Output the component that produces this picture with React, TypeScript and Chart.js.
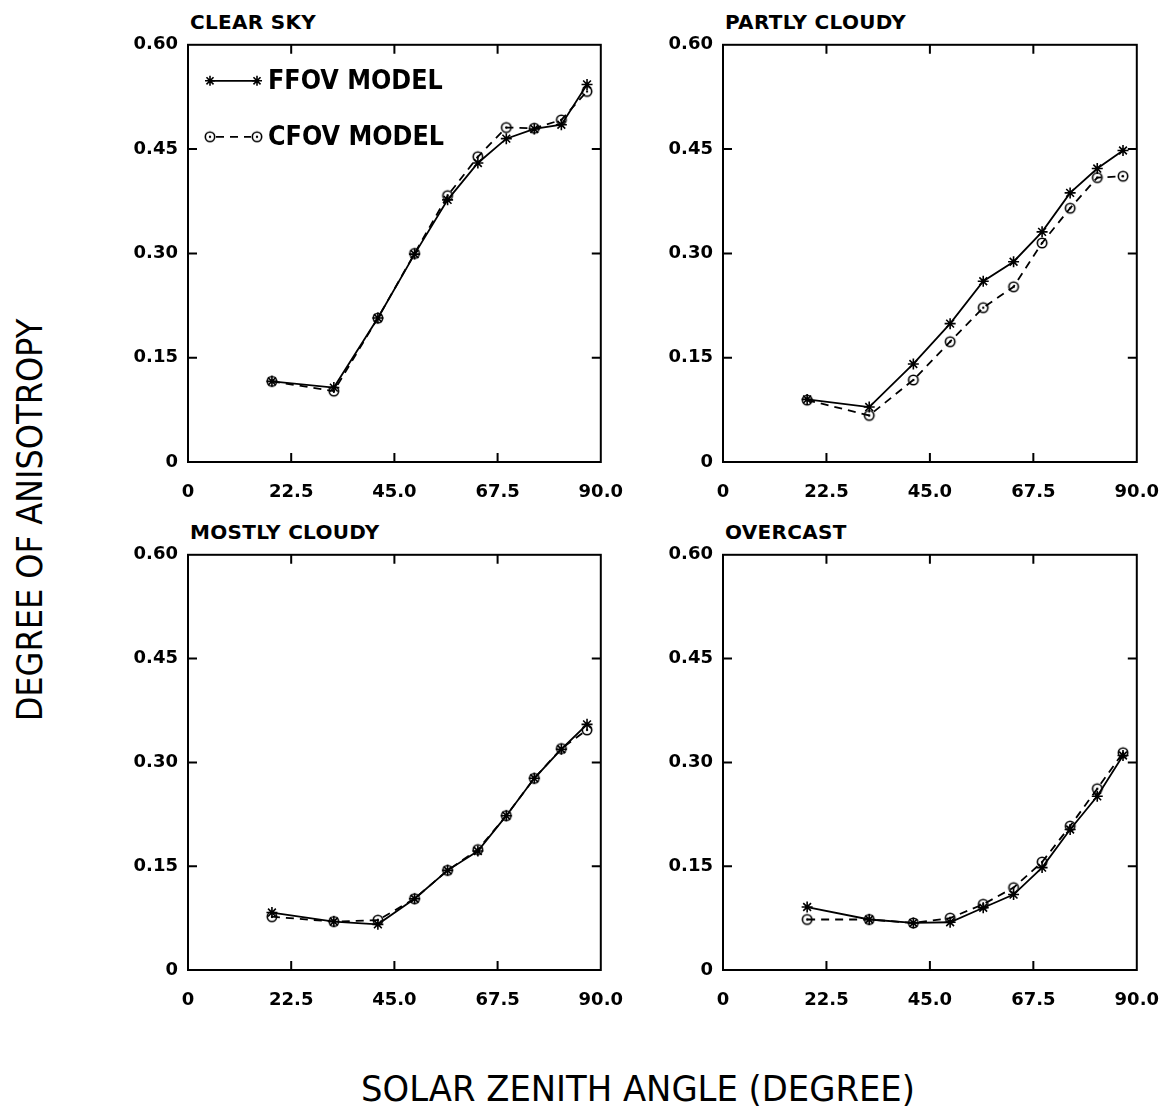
import React, { useEffect, useRef } from "react";
import { Chart, registerables } from "chart.js";

Chart.register(...registerables);

// ---- data ----
const sza = [18.3, 31.8, 41.4, 49.4, 56.6, 63.2, 69.4, 75.5, 81.4, 87.0];
const xTicks = [0, 22.5, 45, 67.5, 90];
const yTicks = [0, 0.15, 0.3, 0.45, 0.6];

const clearFFOV = [0.116, 0.107, 0.207, 0.299, 0.377, 0.43, 0.465, 0.479, 0.485, 0.543];
const clearCFOV = [0.116, 0.102, 0.207, 0.3, 0.383, 0.439, 0.481, 0.48, 0.492, 0.533];
const partlyFFOV = [0.09, 0.079, 0.141, 0.199, 0.26, 0.288, 0.331, 0.387, 0.422, 0.448];
const partlyCFOV = [0.089, 0.067, 0.118, 0.173, 0.222, 0.252, 0.315, 0.365, 0.409, 0.411];
const mostlyFFOV = [0.083, 0.07, 0.066, 0.103, 0.144, 0.172, 0.223, 0.277, 0.319, 0.355];
const mostlyCFOV = [0.077, 0.07, 0.072, 0.103, 0.144, 0.174, 0.223, 0.277, 0.32, 0.347];
const overFFOV = [0.091, 0.073, 0.068, 0.069, 0.09, 0.109, 0.148, 0.203, 0.251, 0.31];
const overCFOV = [0.073, 0.073, 0.068, 0.075, 0.095, 0.119, 0.156, 0.208, 0.262, 0.314];

const seriesNames = ["FFOV MODEL", "CFOV MODEL"];
const panelTitles = ["CLEAR SKY", "PARTLY CLOUDY", "MOSTLY CLOUDY", "OVERCAST"];
const xTitle = "SOLAR ZENITH ANGLE (DEGREE)";
const yTitle = "DEGREE OF ANISOTROPY";

const PAD_L = 80;
const PAD_T = 20;
const PAD_R = 35;
const PAD_B = 50;

function makeCircleMarker(): HTMLCanvasElement {
  const c = document.createElement("canvas");
  c.width = 14;
  c.height = 14;
  const g = c.getContext("2d")!;
  g.strokeStyle = "#000";
  g.lineWidth = 1.6;
  g.beginPath();
  g.arc(7, 7, 4.7, 0, Math.PI * 2);
  g.stroke();
  g.fillStyle = "#000";
  g.beginPath();
  g.arc(7, 7, 1.2, 0, Math.PI * 2);
  g.fill();
  return c;
}

function drawStar(ctx: CanvasRenderingContext2D, x: number, y: number, r: number) {
  ctx.beginPath();
  for (let k = 0; k < 4; k++) {
    const a = (k * Math.PI) / 4;
    ctx.moveTo(x - r * Math.cos(a), y - r * Math.sin(a));
    ctx.lineTo(x + r * Math.cos(a), y + r * Math.sin(a));
  }
  ctx.stroke();
}

const framePlugin = {
  id: "frame",
  afterDraw(chart: any) {
    const { ctx, chartArea, scales } = chart;
    const { left, right, top, bottom } = chartArea;
    ctx.save();
    ctx.strokeStyle = "#000";
    ctx.lineWidth = 2;
    ctx.strokeRect(left, top, right - left, bottom - top);
    const L = 9;
    ctx.beginPath();
    xTicks.slice(1, -1).forEach((v) => {
      const px = scales.x.getPixelForValue(v);
      ctx.moveTo(px, bottom);
      ctx.lineTo(px, bottom - L);
      ctx.moveTo(px, top);
      ctx.lineTo(px, top + L);
    });
    yTicks.slice(1, -1).forEach((v) => {
      const py = scales.y.getPixelForValue(v);
      ctx.moveTo(left, py);
      ctx.lineTo(left + L, py);
      ctx.moveTo(right, py);
      ctx.lineTo(right - L, py);
    });
    ctx.stroke();
    ctx.restore();
  },
};

function makeLegendPlugin(circle: HTMLCanvasElement) {
  return {
    id: "insideLegend",
    afterDraw(chart: any) {
      const { ctx, chartArea } = chart;
      const { left, top } = chartArea;
      const x1 = left + 22;
      const x2 = left + 69;
      const tx = left + 80;
      const rows = [top + 36, top + 92];
      ctx.save();
      ctx.strokeStyle = "#000";
      ctx.fillStyle = "#000";
      ctx.lineWidth = 1.8;
      ctx.setLineDash([]);
      ctx.beginPath();
      ctx.moveTo(x1, rows[0]);
      ctx.lineTo(x2, rows[0]);
      ctx.stroke();
      ctx.lineWidth = 1.6;
      drawStar(ctx, x1, rows[0], 5);
      drawStar(ctx, x2, rows[0], 5);
      ctx.lineWidth = 1.8;
      ctx.setLineDash([8, 6]);
      ctx.beginPath();
      ctx.moveTo(x1 + 6, rows[1]);
      ctx.lineTo(x2 - 6, rows[1]);
      ctx.stroke();
      ctx.setLineDash([]);
      ctx.drawImage(circle, x1 - 7, rows[1] - 7);
      ctx.drawImage(circle, x2 - 7, rows[1] - 7);
      ctx.font = "bold 26px 'DejaVu Sans'";
      ctx.textBaseline = "middle";
      ctx.textAlign = "left";
      rows.forEach((ry, i) => {
        ctx.save();
        ctx.translate(tx, ry + 1);
        ctx.scale(0.92, 1);
        ctx.fillText(seriesNames[i], 0, 0);
        ctx.restore();
      });
      ctx.restore();
    },
  };
}

type PanelProps = {
  title: string;
  ffov: number[];
  cfov: number[];
  left: number;
  top: number;
  width: number;
  height: number;
  legend?: boolean;
};

function Panel({ title, ffov, cfov, left, top, width, height, legend }: PanelProps) {
  const ref = useRef<HTMLCanvasElement | null>(null);
  useEffect(() => {
    if (!ref.current) return;
    const circle = makeCircleMarker();
    const tickFont = { family: "'DejaVu Sans'", weight: "bold" as const, size: 18 };
    const plugins: any[] = [framePlugin];
    if (legend) plugins.push(makeLegendPlugin(circle));
    const chart = new Chart(ref.current, {
      type: "line",
      data: {
        datasets: [
          {
            label: seriesNames[0],
            data: sza.map((x, i) => ({ x, y: ffov[i] })),
            borderColor: "#000",
            borderWidth: 1.8,
            pointStyle: "star",
            pointRadius: 5.5,
            pointBorderWidth: 1.6,
            pointBorderColor: "#000",
            pointBackgroundColor: "#000",
            fill: false,
            tension: 0,
          },
          {
            label: seriesNames[1],
            data: sza.map((x, i) => ({ x, y: cfov[i] })),
            borderColor: "#000",
            borderWidth: 1.8,
            borderDash: [8, 6],
            pointStyle: circle,
            pointRadius: 5,
            pointBorderColor: "#000",
            pointBackgroundColor: "rgba(0,0,0,0)",
            fill: false,
            tension: 0,
          },
        ],
      },
      options: {
        responsive: false,
        animation: false,
        devicePixelRatio: 1,
        events: [],
        layout: { padding: { top: PAD_T, right: PAD_R, left: 0, bottom: 0 } },
        plugins: { legend: { display: false }, tooltip: { enabled: false }, title: { display: false } },
        scales: {
          x: {
            type: "linear",
            min: 0,
            max: 90,
            afterBuildTicks: (s: any) => {
              s.ticks = xTicks.map((v) => ({ value: v }));
            },
            afterFit: (s: any) => {
              s.height = PAD_B;
            },
            grid: { display: false, drawTicks: false },
            border: { display: false },
            ticks: {
              color: "#000",
              padding: 20,
              font: tickFont,
              maxRotation: 0,
              autoSkip: false,
              callback: (v: any) => (Number(v) === 0 ? "0" : Number(v).toFixed(1)),
            },
          },
          y: {
            type: "linear",
            min: 0,
            max: 0.6,
            afterBuildTicks: (s: any) => {
              s.ticks = yTicks.map((v) => ({ value: v }));
            },
            afterFit: (s: any) => {
              s.width = PAD_L;
            },
            grid: { display: false, drawTicks: false },
            border: { display: false },
            ticks: {
              color: "#000",
              padding: 10,
              font: tickFont,
              autoSkip: false,
              callback: (v: any) => (Number(v) === 0 ? "0" : Number(v).toFixed(2)),
            },
          },
        },
      },
      plugins,
    } as any);
    return () => chart.destroy();
  }, [ffov, cfov, legend]);

  const cw = width + PAD_L + PAD_R;
  const ch = height + PAD_T + PAD_B;
  return (
    <>
      <div
        style={{
          position: "absolute",
          left: left + 2,
          top: top - 32,
          fontFamily: "'DejaVu Sans'",
          fontWeight: "bold",
          fontSize: 20,
          lineHeight: "20px",
          letterSpacing: 0.3,
          whiteSpace: "nowrap",
          color: "#000",
        }}
      >
        {title}
      </div>
      <canvas
        ref={ref}
        width={cw}
        height={ch}
        style={{ position: "absolute", left: left - PAD_L, top: top - PAD_T, width: cw, height: ch }}
      />
    </>
  );
}

export default function App() {
  return (
    <div
      style={{
        position: "absolute",
        left: 0,
        top: 0,
        width: 1172,
        height: 1110,
        background: "#fff",
        overflow: "hidden",
      }}
    >
      <Panel title={panelTitles[0]} ffov={clearFFOV} cfov={clearCFOV} left={188} top={44} width={420} height={418} legend />
      <Panel title={panelTitles[1]} ffov={partlyFFOV} cfov={partlyCFOV} left={723} top={44} width={421} height={418} />
      <Panel title={panelTitles[2]} ffov={mostlyFFOV} cfov={mostlyCFOV} left={188} top={554} width={420} height={416} />
      <Panel title={panelTitles[3]} ffov={overFFOV} cfov={overCFOV} left={723} top={554} width={421} height={416} />
      <div
        style={{
          position: "absolute",
          left: 638 - 400,
          top: 1071,
          width: 800,
          textAlign: "center",
          fontFamily: "'DejaVu Sans'",
          fontSize: 36,
          lineHeight: "36px",
          whiteSpace: "nowrap",
          color: "#000",
          transform: "scaleX(0.94)",
        }}
      >
        {xTitle}
      </div>
      <div
        style={{
          position: "absolute",
          left: 30 - 300,
          top: 520 - 18,
          width: 600,
          height: 36,
          textAlign: "center",
          fontFamily: "'DejaVu Sans'",
          fontSize: 36,
          lineHeight: "36px",
          whiteSpace: "nowrap",
          color: "#000",
          transform: "rotate(-90deg) scaleX(0.89)",
          transformOrigin: "50% 50%",
        }}
      >
        {yTitle}
      </div>
    </div>
  );
}
